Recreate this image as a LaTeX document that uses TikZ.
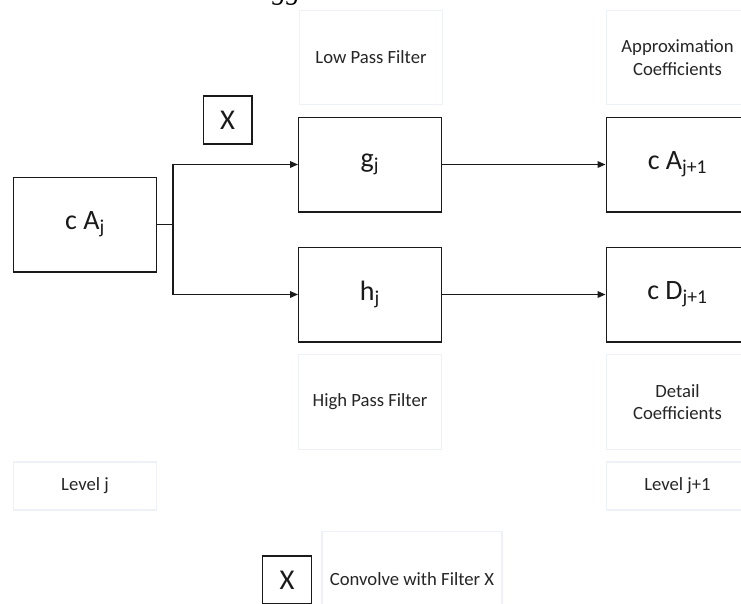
\documentclass[tikz,border=0pt]{standalone}
\usepackage{fontspec}
\setmainfont{Carlito}
\newfontfamily\serifit{Liberation Serif}
\usetikzlibrary{arrows.meta}
\definecolor{lblborder}{HTML}{EEF1F8}
\definecolor{lbltext}{HTML}{262626}
\definecolor{mainline}{HTML}{1A1A1A}
\tikzset{
  mainbox/.style={draw=mainline, line width=1pt, minimum width=107pt, minimum height=71pt, inner sep=0pt, font=\fontsize{21}{24}\selectfont, text=mainline},
  lblbox/.style={draw=lblborder, line width=0.8pt, minimum width=107pt, minimum height=71pt, inner sep=0pt, align=center, font=\fontsize{14}{17}\selectfont, text=lbltext},
  levelbox/.style={lblbox, minimum height=36pt},
  xbox/.style={draw=mainline, line width=1pt, minimum width=36.5pt, minimum height=36pt, inner sep=0pt, font=\fontsize{21.5}{24}\selectfont, text=mainline},
  arr/.style={draw=mainline, line width=1pt, -{Triangle[length=6pt,width=5pt]}},
  wire/.style={draw=mainline, line width=1pt}
}
\begin{document}
\begin{tikzpicture}[x=0.75pt,y=-0.75pt]
\useasboundingbox (0,0) rectangle (741,603);
\clip (0,0) rectangle (741,603);
\fill[white] (0,0) rectangle (741,603);
% cropped caption fragment at the top
\node[anchor=base west, inner sep=0pt, font=\serifit\itshape\fontsize{21}{24}\selectfont] (frag) at (272,-1) {gg};
% label boxes
\node[lblbox] (low) at (371,57.5) {Low Pass Filter};
\node[lblbox] (approx) at (677.5,57.5) {Approximation\\Coefficients};
\node[lblbox] (high) at (370,402) {High Pass Filter};
\node[lblbox] (detail) at (677.5,402) {Detail\\Coefficients};
\node[levelbox] (levj) at (85,486) {Level j};
\node[levelbox] (levj1) at (677.5,486) {Level j+1};
\node[lblbox, minimum width=135pt] (conv) at (412,579) {Convolve with Filter X};
% main boxes
\node[mainbox] (cAj) at (85,224.5) {c A\textsubscript{j}};
\node[mainbox] (g) at (370,164.5) {g\textsubscript{j}};
\node[mainbox] (h) at (370,294.5) {h\textsubscript{j}};
\node[mainbox] (cA1) at (677.5,164.5) {c A\textsubscript{j+1}};
\node[mainbox] (cD1) at (677.5,294.5) {c D\textsubscript{j+1}};
\node[xbox] (xtop) at (227.5,120) {X};
\node[xbox] (xleg) at (287,580) {X};
% connectors
\coordinate (split) at (173,224.5);
\draw[wire] (cAj.east) -- (split);
\draw[arr] (split) |- (g.west);
\draw[arr] (split) |- (h.west);
\draw[arr] (g.east) -- (cA1.west);
\draw[arr] (h.east) -- (cD1.west);
\end{tikzpicture}
\end{document}
